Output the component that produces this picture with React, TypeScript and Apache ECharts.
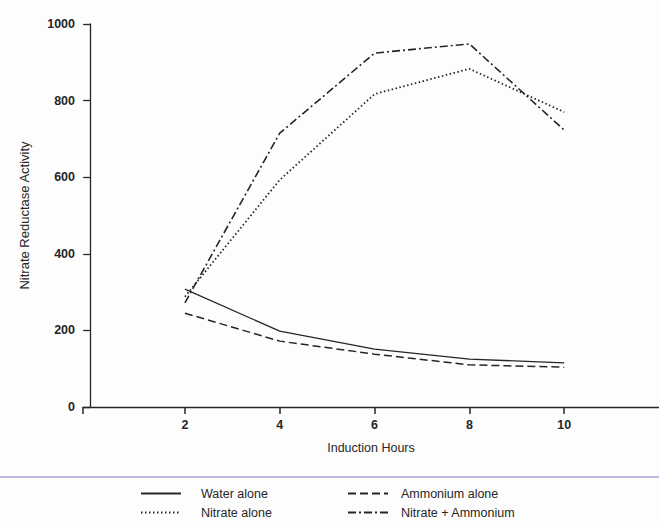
import React, { useEffect, useRef } from "react";
import * as echarts from "echarts";

const hours = [2, 4, 6, 8, 10];
const waterAlone = [308, 198, 151, 125, 115];
const ammoniumAlone = [245, 172, 138, 110, 104];
const nitrateAlone = [288, 593, 817, 883, 770];
const nitrateAmmonium = [272, 715, 924, 948, 723];
const xTicks = [2, 4, 6, 8, 10];
const xMin = -0.15;

const ink = "#262626";
const font = "Liberation Sans, Arial, sans-serif";

function pairs(vals: number[]) {
  return hours.map((h, i) => [h, vals[i]]);
}

export default function App() {
  const ref = useRef<HTMLDivElement>(null);
  useEffect(() => {
    if (!ref.current) return;
    const chart = echarts.init(ref.current, undefined, { renderer: "svg" });
    const mk = (name: string, vals: number[], type: any, width = 1.3) => ({
      name,
      type: "line",
      data: pairs(vals),
      symbol: "none",
      lineStyle: { color: ink, width, type },
      itemStyle: { color: ink },
    });
    const leg = (name: string, left: number, top: number, pad: number) => ({
      orient: "horizontal",
      left,
      top,
      padding: 0,
      itemWidth: 40,
      itemHeight: 10,
      data: [name],
      itemStyle: { opacity: 0 },
      textStyle: {
        color: ink,
        fontSize: 12.5,
        fontFamily: font,
        padding: [0, 0, 0, pad],
      },
    });
    chart.setOption({
      animation: false,
      backgroundColor: "#fdfdfd",
      grid: { left: 83, top: 24, right: 0, bottom: 115, containLabel: false },
      xAxis: {
        type: "value",
        min: xMin,
        max: 12,
        name: "Induction Hours",
        nameLocation: "middle",
        nameGap: 34,
        nameTextStyle: { color: ink, fontSize: 12.5, fontFamily: font },
        splitLine: { show: false },
        axisLine: { show: true, lineStyle: { color: ink, width: 1.3 } },
        axisTick: {
          show: true,
          customValues: [xMin, ...xTicks],
          length: 7,
          inside: false,
          lineStyle: { color: ink, width: 1.5 },
        },
        axisLabel: {
          customValues: xTicks,
          color: ink,
          fontSize: 12.5,
          fontWeight: "bold",
          fontFamily: font,
          margin: 11,
        },
      },
      yAxis: {
        type: "value",
        min: 0,
        max: 1000,
        interval: 200,
        name: "Nitrate Reductase Activity",
        nameLocation: "middle",
        nameGap: 52,
        nameTextStyle: { color: ink, fontSize: 13, fontFamily: font },
        splitLine: { show: false },
        axisLine: { show: true, lineStyle: { color: ink, width: 1.3 } },
        axisTick: { show: true, length: 7, lineStyle: { color: ink, width: 1.3 } },
        axisLabel: {
          color: ink,
          fontSize: 12.5,
          fontWeight: "bold",
          fontFamily: font,
          margin: 8,
          formatter: (v: number) => String(v),
        },
      },
      legend: [
        leg("Water alone", 140, 487, 15),
        leg("Nitrate alone", 140, 506, 15),
        leg("Ammonium alone", 347, 487, 8),
        leg("Nitrate + Ammonium", 347, 506, 8),
      ],
      graphic: [
        {
          type: "line",
          shape: { x1: 0, y1: 477, x2: 659, y2: 477 },
          style: { stroke: "#c4b4e2", lineWidth: 2 },
        },
      ],
      series: [
        mk("Water alone", waterAlone, "solid"),
        mk("Nitrate alone", nitrateAlone, [1.5, 2.5], 1.8),
        mk("Ammonium alone", ammoniumAlone, [8, 4], 1.5),
        mk("Nitrate + Ammonium", nitrateAmmonium, [8, 3, 2, 3], 1.6),
      ],
    });
    return () => chart.dispose();
  }, []);
  return (
    <div
      ref={ref}
      style={{ position: "fixed", left: 0, top: 0, width: 659, height: 522 }}
    />
  );
}
